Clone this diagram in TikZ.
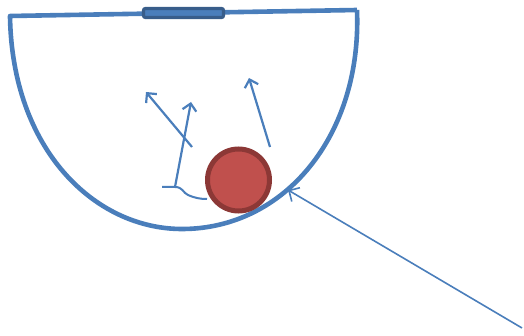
\documentclass[tikz,border=0pt]{standalone}
\usetikzlibrary{arrows.meta}
\definecolor{bluel}{HTML}{4A7EBB}
\definecolor{bluedark}{HTML}{385D8A}
\definecolor{redf}{HTML}{C0504D}
\definecolor{redd}{HTML}{8C3836}
\tikzset{
  bowlline/.style={draw=bluel,line width=4.6pt,line join=round},
  thinarrow/.style={draw=bluel,line width=2.2pt,-{Straight Barb[length=7pt,width=14pt,line width=2.2pt]}},
  longarrow/.style={draw=bluel,line width=1.6pt,-{Straight Barb[length=8pt,width=16pt,line width=1.6pt]}},
}
\begin{document}
\begin{tikzpicture}[x=1pt,y=-1pt]
\useasboundingbox (0,0) rectangle (524,336);
% bowl
\coordinate (tl) at (10,16);
\coordinate (tr) at (357,10);
\coordinate (bot) at (182,229);
\draw[bowlline] (tr) -- (tl) .. controls (12,150) and (95,229) .. (bot) .. controls (285,229) and (362,135) .. (tr);
% handle
\node[draw=bluedark,fill=bluel,line width=3.2pt,rounded corners=2pt,minimum width=80pt,minimum height=9pt,inner sep=0pt] (handle) at (183.5,13) {};
% ball
\node[circle,draw=redd,fill=redf,line width=5pt,minimum size=62pt,inner sep=0pt] (ball) at (238.5,180) {};
% arrows
\coordinate (a1s) at (192,147); \coordinate (a1e) at (146,92);
\coordinate (a2s) at (175,187); \coordinate (a2e) at (191,102);
\coordinate (a3s) at (270,147); \coordinate (a3e) at (249,78);
\draw[thinarrow] (a1s) -- (a1e);
\draw[thinarrow] (a2s) -- (a2e);
\draw[thinarrow] (a3s) -- (a3e);
% brace curve
\coordinate (b1) at (162,187);
\coordinate (b2) at (207,199);
\draw[bluel,line width=2pt] (b1) -- (a2s) .. controls (183,187) and (183,193) .. (188,195) .. controls (195,198) and (200,199) .. (b2);
% long arrow
\coordinate (ls) at (522,328);
\coordinate (le) at (288,190);
\draw[longarrow] (ls) -- (le);
\end{tikzpicture}
\end{document}
